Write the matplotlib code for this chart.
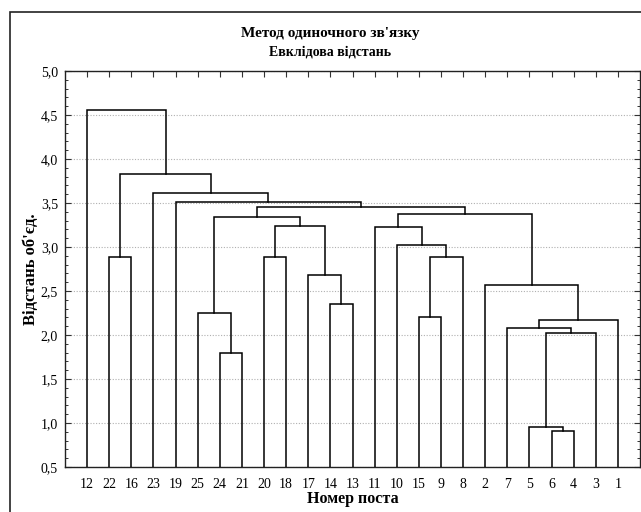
"""
Dendrogram (single linkage, Euclidean distance) for observation posts.
"""

import matplotlib
matplotlib.use("Agg")
import matplotlib.pyplot as plt
from matplotlib.patches import Rectangle
from matplotlib.ticker import MultipleLocator, FuncFormatter

# --------------------------------------------------
# Data
# --------------------------------------------------
leaf_labels = ["12", "22", "16", "23", "19", "25", "24", "21", "20", "18",
               "17", "14", "13", "11", "10", "15", "9", "8", "2", "7",
               "5", "6", "4", "3", "1"]

# merge steps: left child, right child, joining distance
# children are leaf labels or "nK" = result of merge K
merge_left = ["6", "5", "n1", "7", "n3", "2", "24", "25", "15", "n8",
              "10", "11", "n11", "14", "17", "20", "n15", "n7", "n17", "19",
              "23", "22", "n21", "12"]
merge_right = ["4", "n0", "3", "n2", "1", "n4", "21", "n6", "9", "8",
               "n9", "n10", "n5", "13", "n13", "18", "n14", "n16", "n12", "n18",
               "n19", "16", "n20", "n22"]
merge_height = [0.91, 0.95, 2.02, 2.08, 2.17, 2.57, 1.80, 2.25, 2.20, 2.89,
                3.02, 3.23, 3.38, 2.35, 2.68, 2.89, 3.24, 3.34, 3.46, 3.51,
                3.61, 2.89, 3.83, 4.56]

y_min, y_max = 0.5, 5.0

# --------------------------------------------------
# Figure
# --------------------------------------------------
plt.rcParams["font.family"] = ["Liberation Serif", "DejaVu Serif"]

fig = plt.figure(figsize=(6.41, 5.12), dpi=100)
ax = fig.add_axes([65 / 641, 1 - 467 / 512, 575 / 641, (467 - 71) / 512])

# outer frame
fig.patches.append(Rectangle((10 / 641, -0.05), 1.2, 1 - 12 / 512 + 0.05,
                             transform=fig.transFigure, fill=False,
                             edgecolor="#222222", linewidth=1.2))

# node positions: leaves at 1..N, height = bottom of axis
pos = {lab: (i + 1, 0.0) for i, lab in enumerate(leaf_labels)}

for k, (a, b, h) in enumerate(zip(merge_left, merge_right, merge_height)):
    xa, ya = pos[a]
    xb, yb = pos[b]
    ax.plot([xa, xa, xb, xb], [ya, h, h, yb], color="black", lw=1.1,
            solid_joinstyle="miter", zorder=3)
    pos[f"n{k}"] = ((xa + xb) / 2, h)

# --------------------------------------------------
# Axes styling
# --------------------------------------------------
ax.set_xlim(0, len(leaf_labels) + 1)
ax.set_ylim(y_min, y_max)

ax.set_xticks(range(1, len(leaf_labels) + 1))
ax.set_xticklabels(leaf_labels, fontsize=10)
ax.yaxis.set_major_locator(MultipleLocator(0.5))
ax.yaxis.set_minor_locator(MultipleLocator(0.1))
ax.yaxis.set_major_formatter(FuncFormatter(lambda v, p: f"{v:.1f}".replace(".", ",")))
ax.tick_params(axis="y", labelsize=10)

ax.tick_params(which="both", direction="in", top=True, right=True,
               bottom=False, color="#333333")
ax.tick_params(which="major", length=4, width=0.8)
ax.tick_params(which="minor", length=2.5, width=0.7)
ax.tick_params(axis="x", pad=8)
ax.tick_params(axis="y", pad=5)

ax.yaxis.grid(True, which="major", linestyle=(0, (1, 1.5)), color="#b0b0b0",
              linewidth=0.8)
ax.set_axisbelow(True)

for s in ax.spines.values():
    s.set_linewidth(1.0)
    s.set_color("#222222")

ax.set_xlabel("Номер поста", fontsize=11.5, fontweight="bold", labelpad=0)
ax.set_ylabel("Відстань об'єд.", fontsize=12, fontweight="bold", labelpad=1)

fig.text(0.515, 1 - 33 / 512, "Метод одиночного зв'язку", ha="center",
         va="center", fontsize=11, fontweight="bold")
fig.text(0.515, 1 - 52 / 512, "Евклідова відстань", ha="center",
         va="center", fontsize=10, fontweight="bold")

fig.savefig("out.png", dpi=100)
